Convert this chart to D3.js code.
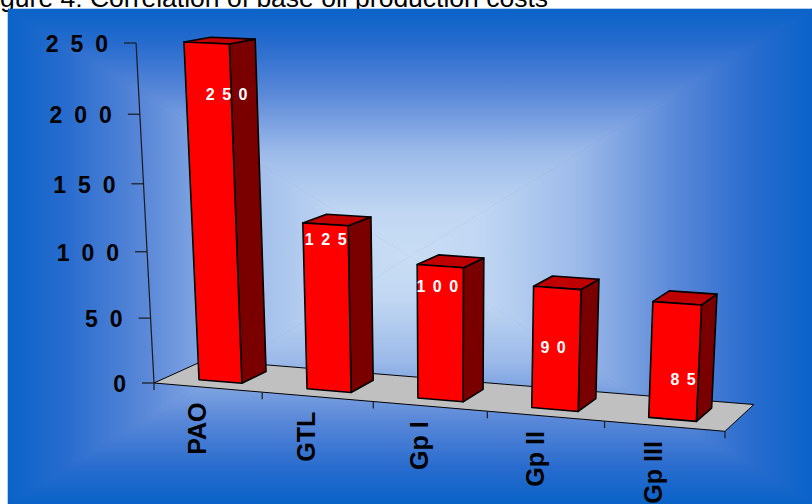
<!DOCTYPE html>
<html>
<head>
<meta charset="utf-8">
<script src="https://cdn.jsdelivr.net/npm/d3@7/dist/d3.min.js"></script>
<style>
  html, body { margin: 0; padding: 0; background: #ffffff; }
  svg { display: block; }
  text { font-family: Arial, "Liberation Sans", sans-serif; }
</style>
</head>
<body>
<svg id="chart" width="812" height="504"></svg>
<script>
// ---- data ----
const categories = ["PAO", "GTL", "Gp I", "Gp II", "Gp III"];
const costs = [250, 125, 100, 90, 85];
const valueTicks = [0, 50, 100, 150, 200, 250];
const valueTickLabels = ["0", "50", "100", "150", "200", "250"];
const title = "Figure 4: Correlation of base oil production costs";

// ---- layout ----
const W = 812, H = 504;
const area = { x0: 8, y0: 9, x1: 812, y1: 504 };

// perspective camera: screen position of the world origin, the three
// vanishing points (category, value and depth directions) and the weight
// of one world unit along each of them
const camera = {
  origin: [154, 383],
  vx: [-8100, -315], kx: -0.01294,
  vy: [450, 6000],   ky: -0.05708,
  vz: [1376, -170],  kz: 0.04357
};
const barDepth = [0.25, 0.75];          // bars sit in the middle of the floor depth
// in-bar data label anchor: fraction of bar height, horizontal nudge (px)
const labelPlacement = [[0.855, 18], [0.91, 0], [0.85, -3], [0.52, -3], [0.35, 9]];

function project(X, Y, Z) {
  const k = X * camera.kx, m = Y * camera.ky, n = Z * camera.kz;
  const hx = camera.origin[0] + k * camera.vx[0] + m * camera.vy[0] + n * camera.vz[0];
  const hy = camera.origin[1] + k * camera.vx[1] + m * camera.vy[1] + n * camera.vz[1];
  const hw = 1 + k + m + n;
  return [hx / hw, hy / hw];
}

const x = d3.scaleBand().domain(categories).range([0, categories.length])
  .paddingInner(0.6).paddingOuter(0.3);
const y = d3.scaleLinear().domain([0, 250]).range([0, 1]);

const svg = d3.select("#chart");
const defs = svg.append("defs");

// ---- title (sits above the chart area, partly off the page) ----
svg.append("text")
  .attr("x", -22).attr("y", 7)
  .attr("font-size", 26.5)
  .attr("fill", "#000")
  .text(title);

// ---- chart area background: rectangular gradient towards the centre ----
const cx = (area.x0 + area.x1) / 2, cy = (area.y0 + area.y1) / 2;
const stops = [
  [0, "#0a63c8"], [0.14, "#276bce"], [0.34, "#5a88d8"],
  [0.58, "#9cbae9"], [0.82, "#c0d6f2"], [1, "#c9ddf4"]
];
const bgGroup = svg.append("g");
bgGroup.append("rect")
  .attr("x", area.x0).attr("y", area.y0)
  .attr("width", area.x1 - area.x0).attr("height", area.y1 - area.y0)
  .attr("fill", "#0a63c8");
const tris = [
  { id: "gT", pts: [[area.x0, area.y0], [area.x1, area.y0], [cx, cy]], g: [cx, area.y0, cx, cy] },
  { id: "gB", pts: [[area.x0, area.y1], [area.x1, area.y1], [cx, cy]], g: [cx, area.y1, cx, cy] },
  { id: "gL", pts: [[area.x0, area.y0], [area.x0, area.y1], [cx, cy]], g: [area.x0, cy, cx, cy] },
  { id: "gR", pts: [[area.x1, area.y0], [area.x1, area.y1], [cx, cy]], g: [area.x1, cy, cx, cy] }
];
tris.forEach(t => {
  const lg = defs.append("linearGradient").attr("id", t.id)
    .attr("gradientUnits", "userSpaceOnUse")
    .attr("x1", t.g[0]).attr("y1", t.g[1]).attr("x2", t.g[2]).attr("y2", t.g[3]);
  stops.forEach(s => lg.append("stop").attr("offset", s[0]).attr("stop-color", s[1]));
  bgGroup.append("polygon")
    .attr("points", t.pts.map(p => p.join(",")).join(" "))
    .attr("fill", `url(#${t.id})`)
    .attr("stroke", `url(#${t.id})`).attr("stroke-width", 0.6);
});

const line = d3.line();
const nCat = categories.length;

// ---- floor ----
svg.append("path")
  .attr("d", line([project(0, 0, 0), project(nCat, 0, 0), project(nCat, 0, 1), project(0, 0, 1)]) + "Z")
  .attr("fill", "#c0c0c0")
  .attr("stroke", "#000").attr("stroke-width", 1)
  .attr("stroke-linejoin", "round");

// ---- value axis ----
const axisColor = "#1a1a1a";
svg.append("path")
  .attr("d", line([project(0, 0, 0), project(0, y(250), 0)]))
  .attr("stroke", axisColor).attr("stroke-width", 1.2).attr("fill", "none");
valueTicks.forEach((t, i) => {
  const p = project(0, y(t), 0);
  svg.append("line")
    .attr("x1", p[0] - 12).attr("x2", p[0])
    .attr("y1", p[1]).attr("y2", p[1])
    .attr("stroke", axisColor).attr("stroke-width", 1.2);
  svg.append("text")
    .attr("x", p[0] - 16).attr("y", p[1] + 9)
    .attr("text-anchor", "end")
    .attr("font-size", 23).attr("font-weight", "bold")
    .attr("letter-spacing", 12)
    .attr("fill", "#000")
    .text(valueTickLabels[i]);
});

// ---- category axis ticks and labels ----
d3.range(nCat + 1).forEach(i => {
  const p = project(i, 0, 0);
  svg.append("line")
    .attr("x1", p[0]).attr("x2", p[0])
    .attr("y1", p[1]).attr("y2", p[1] + 7)
    .attr("stroke", axisColor).attr("stroke-width", 1.2);
});
categories.forEach(c => {
  const p = project(x(c) + x.bandwidth() / 2, 0, 0);
  svg.append("text")
    .attr("transform", `translate(${p[0] - 11},${p[1] + 15}) rotate(-90)`)
    .attr("dy", "0.36em")
    .attr("text-anchor", "end")
    .attr("font-size", 25).attr("font-weight", "bold")
    .attr("fill", "#000")
    .text(c);
});

// ---- bars ----
const [z0, z1] = barDepth;
const bars = svg.append("g")
  .attr("stroke", "#000").attr("stroke-width", 1.6).attr("stroke-linejoin", "round");
categories.forEach((c, i) => {
  const a = x(c), b = a + x.bandwidth(), h = y(costs[i]);
  const g = bars.append("g");
  g.append("path")   // right side
    .attr("d", line([project(b, 0, z0), project(b, 0, z1), project(b, h, z1), project(b, h, z0)]) + "Z")
    .attr("fill", "#7a0000");
  g.append("path")   // top
    .attr("d", line([project(a, h, z0), project(b, h, z0), project(b, h, z1), project(a, h, z1)]) + "Z")
    .attr("fill", "#c00000");
  g.append("path")   // front
    .attr("d", line([project(a, 0, z0), project(b, 0, z0), project(b, h, z0), project(a, h, z0)]) + "Z")
    .attr("fill", "#ff0000");
});

// ---- data labels ----
categories.forEach((c, i) => {
  const [f, nudge] = labelPlacement[i];
  const p = project(x(c) + x.bandwidth() / 2, y(costs[i]) * f, z0);
  svg.append("text")
    .attr("x", p[0] + nudge + 3.7).attr("y", p[1])
    .attr("dy", "0.36em")
    .attr("text-anchor", "middle")
    .attr("font-size", 16).attr("font-weight", "bold")
    .attr("letter-spacing", 7.5)
    .attr("fill", "#fff")
    .text(costs[i]);
});
</script>
</body>
</html>
